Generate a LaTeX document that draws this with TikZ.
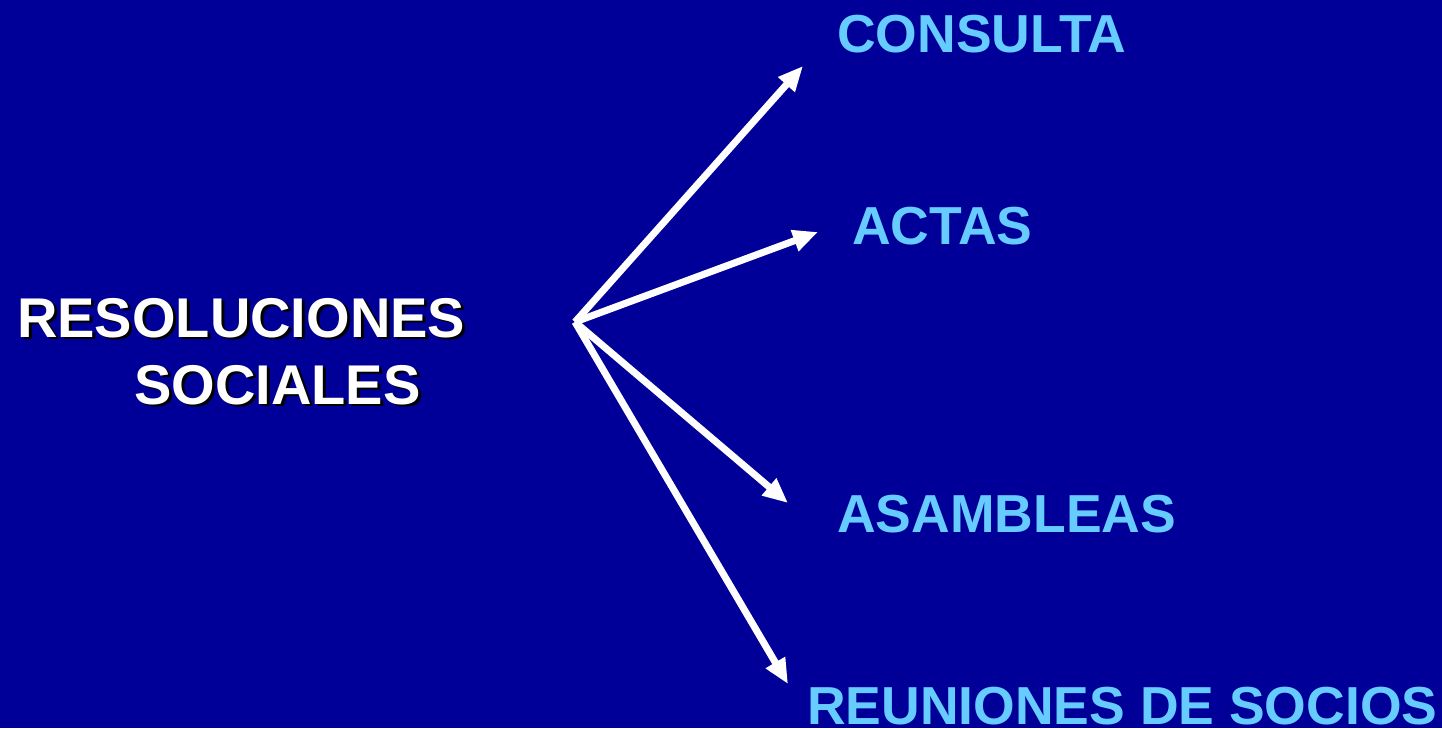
\documentclass[tikz,border=0pt]{standalone}
\usepackage{fontspec}
\setmainfont{Liberation Sans}
\usetikzlibrary{arrows.meta}
\definecolor{bgblue}{HTML}{000099}
\definecolor{lightblue}{HTML}{66CCFF}
\begin{document}
\begin{tikzpicture}[x=1pt,y=-1pt,
  lbl/.style={inner sep=0pt, anchor=base west, text=lightblue, font=\bfseries\fontsize{53.5}{60}\selectfont},
  main/.style={inner sep=0pt, anchor=base west, text=white, font=\bfseries\fontsize{56}{62}\selectfont},
  shadowtxt/.style={main, text=black},
  arr/.style={draw=white, line width=7pt, -{Triangle[length=25pt,width=21pt]}}]
\fill[bgblue] (0,0) rectangle (1442,728);
\useasboundingbox (0,0) rectangle (1442,728);
% main text with shadow
\node[shadowtxt] (s1) at (20,339.5) {RESOLUCIONES};
\node[shadowtxt] (s2) at (137,406.5) {SOCIALES};
\node[main] (m1) at (17,337) {RESOLUCIONES};
\node[main] (m2) at (134,404) {SOCIALES};
% targets
\node[lbl] (consulta) at (837,52) {CONSULTA};
\node[lbl] (actas) at (852,244) {ACTAS};
\node[lbl] (asambleas) at (837,532) {ASAMBLEAS};
\node[lbl] (reuniones) at (807,724) {REUNIONES DE SOCIOS};
% arrows
\coordinate (o) at (575,322);
\coordinate (t1) at (803,66);
\coordinate (t2) at (818,232);
\coordinate (t3) at (788,503);
\coordinate (t4) at (788,684);
\draw[arr] (o) -- (t1);
\draw[arr] (o) -- (t2);
\draw[arr] (o) -- (t3);
\draw[arr] (o) -- (t4);
\end{tikzpicture}
\end{document}
